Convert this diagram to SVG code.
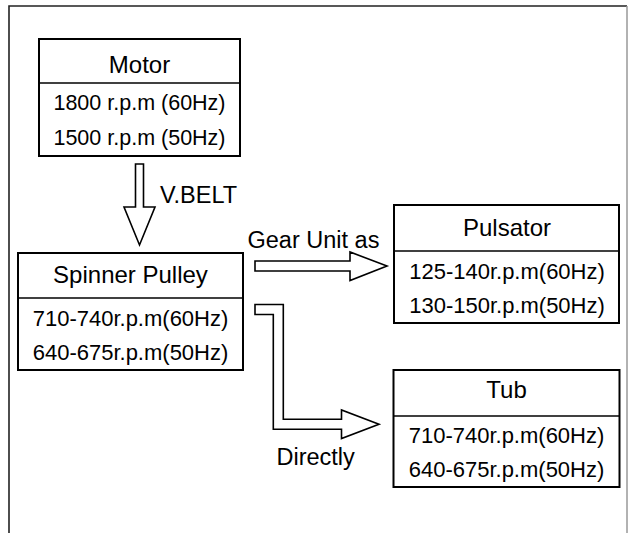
<svg xmlns="http://www.w3.org/2000/svg" width="628" height="533" viewBox="0 0 628 533">
<style>
.box{fill:#fff;stroke:#000;stroke-width:2}
.div{stroke:#000;stroke-width:1.6}
.t{font-family:"Liberation Sans",Arial,sans-serif;fill:#000;text-anchor:middle}
.title{font-size:24px}
.val{font-size:22px}
.lbl{font-family:"Liberation Sans",Arial,sans-serif;fill:#000;font-size:23.5px}
.arr{fill:#fff;stroke:#000;stroke-width:1.6;stroke-linejoin:miter}
</style>
<rect width="628" height="533" fill="#fff"/>
<path d="M9,533 V6 H627" fill="none" stroke="#222" stroke-width="1.6"/>
<line x1="627" y1="6" x2="627" y2="533" stroke="#999" stroke-width="1.5"/>

<g id="motor">
<rect class="box" x="39" y="39" width="201" height="117"/>
<line class="div" x1="39" y1="83" x2="240" y2="83"/>
<text class="t title" x="139.5" y="73">Motor</text>
<text class="t val" x="139.5" y="110" style="font-size:21.5px">1800 r.p.m (60Hz)</text>
<text class="t val" x="139.5" y="145" style="font-size:21.5px">1500 r.p.m (50Hz)</text>
</g>

<g id="spinner">
<rect class="box" x="18" y="253" width="225" height="117"/>
<line class="div" x1="18" y1="298" x2="243" y2="298"/>
<text class="t title" x="130.5" y="283">Spinner Pulley</text>
<text class="t val" x="130.5" y="326">710-740r.p.m(60Hz)</text>
<text class="t val" x="130.5" y="360">640-675r.p.m(50Hz)</text>
</g>

<g id="pulsator">
<rect class="box" x="394" y="205" width="225" height="118"/>
<line class="div" x1="394" y1="251" x2="619" y2="251"/>
<text class="t title" x="507" y="236">Pulsator</text>
<text class="t val" x="507" y="279">125-140r.p.m(60Hz)</text>
<text class="t val" x="507" y="313">130-150r.p.m(50Hz)</text>
</g>

<g id="tub">
<rect class="box" x="393.5" y="370" width="226" height="117"/>
<line class="div" x1="393.5" y1="416" x2="619.5" y2="416"/>
<text class="t title" x="506.5" y="398">Tub</text>
<text class="t val" x="506.5" y="443">710-740r.p.m(60Hz)</text>
<text class="t val" x="506.5" y="477">640-675r.p.m(50Hz)</text>
</g>

<g id="connectors">
<polygon class="arr" points="135.5,164 143.5,164 143.5,207 155,207 139.5,245 124,207 135.5,207"/>
<text class="lbl" x="160" y="203">V.BELT</text>
<polygon class="arr" points="255,261 350,261 350,252 387,266 350,280.5 350,271 255,271"/>
<text class="lbl" x="247.5" y="248">Gear Unit as</text>
<polygon class="arr" points="255,304.5 283.3,304.5 283.3,419.3 341.5,419.3 341.5,410 379,424.3 341.5,438.5 341.5,429.3 273.3,429.3 273.3,314.5 255,314.5"/>
<text class="lbl" x="276.5" y="465">Directly</text>
</g>
</svg>
